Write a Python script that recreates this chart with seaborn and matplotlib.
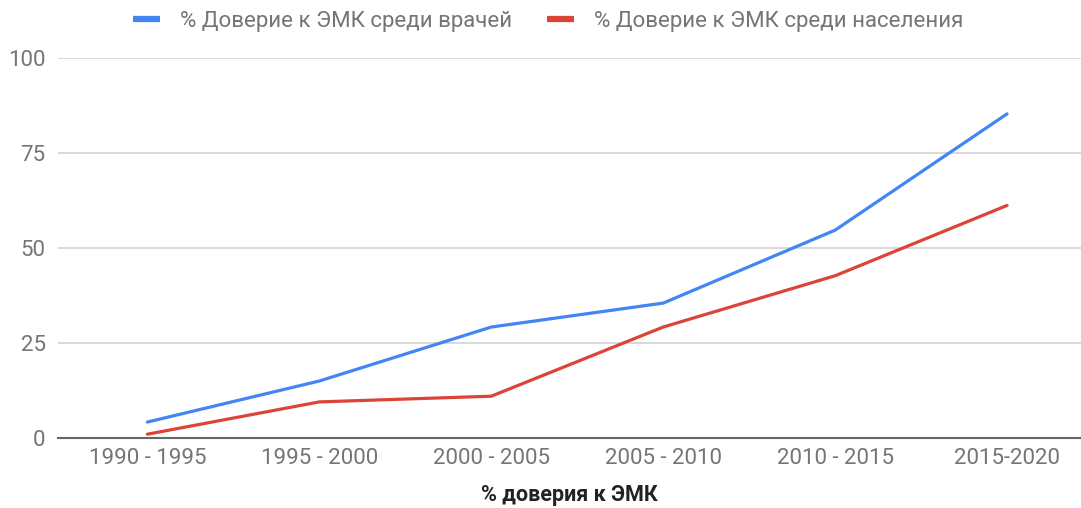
import matplotlib
matplotlib.use("Agg")
import matplotlib.pyplot as plt
import seaborn as sns
import pandas as pd
from matplotlib.lines import Line2D

periods = ["1990 - 1995", "1995 - 2000", "2000 - 2005", "2005 - 2010", "2010 - 2015", "2015-2020"]
doctors = [4.2, 15.0, 29.2, 35.5, 54.7, 85.3]
population = [1.0, 9.5, 11.0, 29.2, 42.7, 61.2]
series_names = ["% Доверие к ЭМК среди врачей", "% Доверие к ЭМК среди населения"]
yticks = [0, 25, 50, 75, 100]
x_title = "% доверия к ЭМК"

sns.set_theme(style="white")
plt.rcParams['font.family'] = ['Roboto', 'DejaVu Sans']

df = pd.DataFrame({
    "period": periods * 2,
    "x": list(range(len(periods))) * 2,
    "value": doctors + population,
    "series": [series_names[0]] * len(periods) + [series_names[1]] * len(periods),
})

colors = {series_names[0]: "#4285F4", series_names[1]: "#DB4437"}

fig = plt.figure(figsize=(10.81, 5.08), dpi=100)
ax = fig.add_axes([58 / 1081, 70 / 508, 1 - 58 / 1081, 380 / 508])

sns.lineplot(data=df, x="x", y="value", hue="series", palette=colors,
             linewidth=2.3, ax=ax, legend=False, sort=False)

ax.set_ylim(0, 100)
ax.set_xlim(-0.52, 5.43)
ax.set_yticks(yticks)
ax.set_yticklabels([str(t) for t in yticks])
ax.set_xticks(range(len(periods)))
ax.set_xticklabels(periods)
ax.tick_params(axis="both", length=0, labelsize=16, colors="#757575")
ax.tick_params(axis="x", pad=7)
ax.tick_params(axis="y", pad=9)

ax.grid(axis="y", color="#d3d3d3", linewidth=1.2)
ax.grid(axis="x", visible=False)
ax.set_axisbelow(True)
for s in ["top", "right", "left"]:
    ax.spines[s].set_visible(False)
ax.spines["bottom"].set_color("#666666")
ax.spines["bottom"].set_linewidth(1.5)
ax.spines["bottom"].set_zorder(1)

ax.set_ylabel("")
ax.set_xlabel(x_title, fontsize=15.5, fontweight="bold", color="#222222", labelpad=11)

handles = [Line2D([0], [0], color=colors[n], linewidth=4.5, solid_capstyle="butt") for n in series_names]
fig.legend(handles, series_names, loc="center", bbox_to_anchor=(0.507, 1 - 21 / 508),
           ncol=2, frameon=False, fontsize=16, handlelength=1.2, handletextpad=0.9,
           columnspacing=1.6, labelcolor="#757575")

fig.savefig("out.png", dpi=100)
